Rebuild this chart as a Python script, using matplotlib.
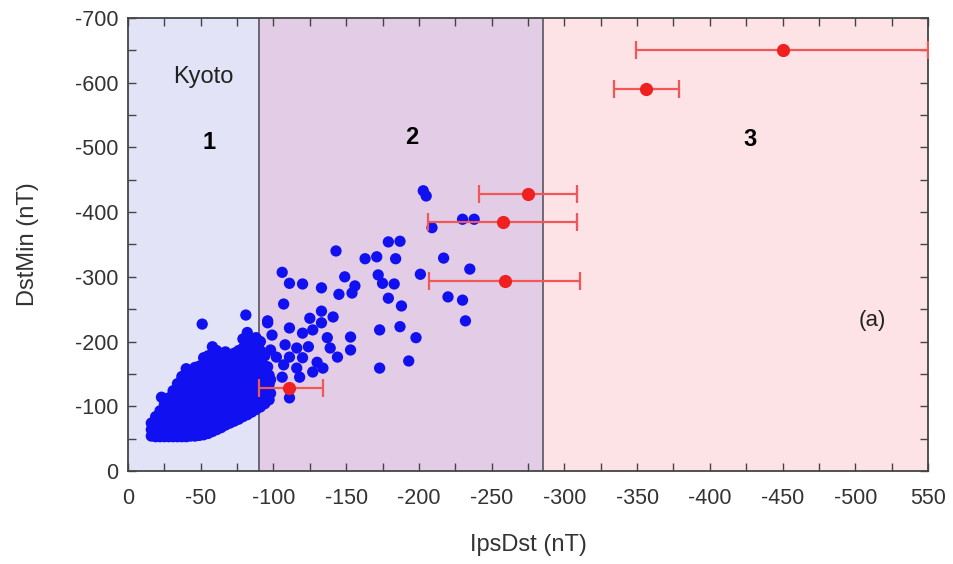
import matplotlib.pyplot as plt
import numpy as np
from matplotlib.ticker import FixedLocator, FixedFormatter, MultipleLocator

plt.rcParams["font.family"] = ["Liberation Sans", "DejaVu Sans"]

# Dense cluster of storms (|IpsDst|, |DstMin|), read column by column
cluster = {
    16: [54, 64, 74],
    19: [53, 63, 73, 84],
    22: [53, 63, 73, 83, 93],
    25: [53, 63, 73, 83, 93, 103],
    28: [53, 63, 73, 83, 93, 103, 113],
    31: [53, 63, 73, 83, 93, 103, 113, 124],
    34: [53, 63, 73, 83, 93, 103, 113, 124, 135],
    37: [53, 63, 73, 83, 93, 103, 113, 124, 135, 146],
    40: [53, 63, 73, 83, 93, 103, 113, 124, 135, 146, 158],
    43: [54, 64, 74, 84, 94, 104, 114, 125, 136, 148],
    46: [54, 64, 74, 84, 94, 104, 114, 125, 136, 148, 160],
    49: [55, 65, 75, 85, 95, 105, 115, 126, 138, 150, 162],
    52: [56, 66, 76, 86, 96, 106, 116, 127, 139, 152, 166, 175],
    55: [58, 68, 78, 88, 98, 108, 118, 128, 140, 152, 164, 178],
    58: [61, 71, 81, 91, 101, 111, 121, 131, 142, 154, 166, 180, 192],
    61: [64, 74, 84, 94, 104, 114, 124, 134, 145, 157, 170, 186],
    64: [67, 77, 87, 97, 107, 117, 127, 137, 148, 160, 172],
    67: [71, 81, 91, 101, 111, 121, 131, 141, 152, 164, 176, 184],
    70: [74, 84, 94, 104, 114, 124, 134, 144, 155, 167, 178],
    73: [77, 87, 97, 107, 117, 127, 137, 147, 158, 170, 182],
    76: [80, 90, 100, 110, 120, 130, 140, 150, 161, 173, 186],
    79: [84, 94, 104, 114, 124, 134, 144, 154, 165, 177, 190, 204],
    82: [87, 97, 107, 117, 127, 137, 147, 157, 168, 180, 196, 214],
    85: [91, 101, 111, 121, 131, 141, 151, 161, 172, 184, 200],
    88: [95, 105, 115, 125, 135, 145, 155, 165, 176, 190, 206],
    91: [99, 109, 119, 129, 139, 149, 160, 172, 186, 200],
    94: [104, 114, 124, 136, 148, 162, 178],
    97: [110, 122, 134, 148],
}

# Scattered storms outside the dense cluster
sparse_x = [23, 51, 81, 96, 106, 111, 120, 133, 145, 154, 107, 96, 125, 133,
            141, 133, 111, 120, 153, 99, 127, 137, 108, 116, 124, 139, 153, 98,
            102, 111, 120, 130, 144, 96, 107, 116, 127, 134, 106, 118, 98, 111,
            98, 94, 203, 205, 209, 230, 238, 179, 187, 143, 163, 171, 184, 217,
            235, 201, 149, 156, 172, 175, 183, 179, 188, 220, 230, 232, 173, 187,
            198, 173, 193]
sparse_y = [114, 227, 241, 229, 307, 290, 289, 283, 273, 275, 258, 232, 236, 247,
            238, 229, 221, 213, 207, 210, 218, 206, 195, 190, 192, 190, 187, 187,
            176, 176, 175, 168, 176, 161, 164, 159, 153, 159, 145, 145, 141, 113,
            120, 130, 433, 425, 376, 389, 389, 354, 355, 340, 328, 331, 328, 329,
            312, 304, 300, 286, 303, 290, 289, 267, 255, 269, 264, 232, 218, 223,
            206, 159, 170]

# Events with IpsDst uncertainty (red)
red_x = [450, 356, 275, 258, 259, 111]
red_y = [650, 590, 428, 385, 294, 128]
red_lo = [349, 334, 241, 206, 207, 90]
red_hi = [550, 379, 309, 309, 311, 134]

regions = [(0, 90, "#e3e3f8"), (90, 285, "#e3cde6"), (285, 550, "#fde3e5")]
x_ticklabels = ["0", "-50", "-100", "-150", "-200", "-250", "-300", "-350",
                "-400", "-450", "-500", "550"]
y_ticklabels = ["0", "-100", "-200", "-300", "-400", "-500", "-600", "-700"]

blue_x = [x for x, ys in cluster.items() for _ in ys] + sparse_x
blue_y = [y for ys in cluster.values() for y in ys] + sparse_y

fig = plt.figure(figsize=(9.54, 5.64), dpi=100)
ax = fig.add_axes([0.1342, 0.1649, 0.8385, 0.8032])

for x0, x1, c in regions:
    ax.axvspan(x0, x1, color=c, lw=0, zorder=0)
for xb in [90, 285]:
    ax.axvline(xb, color="#555560", lw=1.2, zorder=1)

ax.scatter(blue_x, blue_y, s=66, color="#1010f0", edgecolors="none", zorder=2)

red_x = np.array(red_x)
xerr = [red_x - np.array(red_lo), np.array(red_hi) - red_x]
ax.errorbar(red_x, red_y, xerr=xerr, fmt="o", color="#f02020", ms=8.5,
            ecolor="#f05858", elinewidth=1.6, capsize=6.5, capthick=1.6, zorder=3)

ax.text(52, 609, "Kyoto", fontsize=17, ha="center", va="center", color="#222222")
ax.text(56, 507, "1", fontsize=17, fontweight="bold", ha="center", va="center")
ax.text(195, 515, "2", fontsize=17, fontweight="bold", ha="center", va="center")
ax.text(428, 512, "3", fontsize=17, fontweight="bold", ha="center", va="center")
ax.text(512, 233, "(a)", fontsize=16, ha="center", va="center", color="#222222")

ax.set_xlim(0, 550)
ax.set_ylim(0, 700)
ax.xaxis.set_major_locator(FixedLocator(np.arange(0, 551, 50)))
ax.xaxis.set_major_formatter(FixedFormatter(x_ticklabels))
ax.xaxis.set_minor_locator(MultipleLocator(25))
ax.yaxis.set_major_locator(FixedLocator(np.arange(0, 701, 100)))
ax.yaxis.set_major_formatter(FixedFormatter(y_ticklabels))
ax.yaxis.set_minor_locator(MultipleLocator(50))
ax.tick_params(which="both", direction="in", top=True, right=True,
               length=6, width=1, color="#444444", labelsize=15.5, labelcolor="#333333")
ax.tick_params(axis="x", pad=12)
ax.tick_params(axis="y", pad=7)
for s in ax.spines.values():
    s.set_color("#444444")
    s.set_linewidth(1.3)

ax.set_xlabel("IpsDst (nT)", fontsize=17, color="#333333", labelpad=18)
ax.set_ylabel("DstMin (nT)", fontsize=17, color="#333333", labelpad=26)

fig.savefig("out.png", dpi=100)
